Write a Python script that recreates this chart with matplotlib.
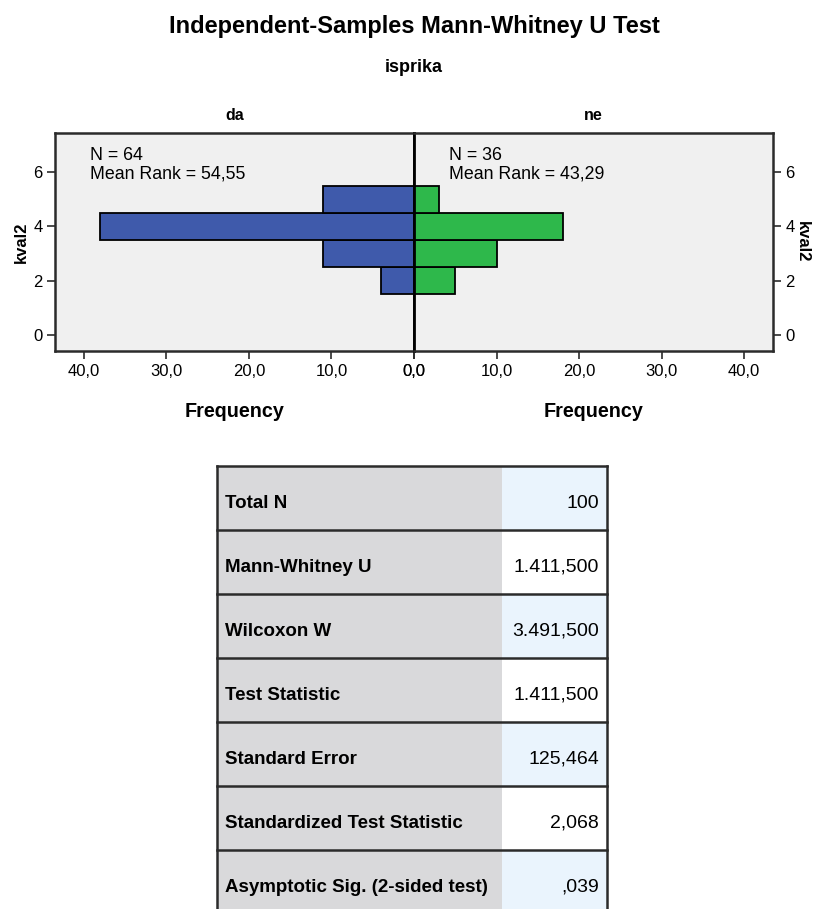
import matplotlib
matplotlib.use('Agg')
import matplotlib.pyplot as plt
from matplotlib.patches import Rectangle
from matplotlib.ticker import FuncFormatter

plt.rcParams['font.family'] = ['Liberation Sans', 'DejaVu Sans']

# ==========================================
# DATA
# ==========================================
kval2_bins = [2, 3, 4, 5]
freq_da = [4, 11, 38, 11]
freq_ne = [5, 10, 18, 3]
group_names = ['da', 'ne']
group_n = [64, 36]
mean_rank = ['54,55', '43,29']
x_ticks = [0, 10, 20, 30, 40]
y_ticks = [0, 2, 4, 6]

table_labels = ['Total N', 'Mann-Whitney U', 'Wilcoxon W', 'Test Statistic',
                'Standard Error', 'Standardized Test Statistic',
                'Asymptotic Sig. (2-sided test)']
table_values = ['100', '1.411,500', '3.491,500', '1.411,500', '125,464', '2,068', ',039']

BLUE = '#3f5aab'
GREEN = '#2eb84b'
PANEL_BG = '#f0f0f0'
FRAME = '#2b2b2b'
GRAY_CELL = '#d9d9db'
BLUE_CELL = '#eaf4fd'

W, H = 815, 909
fig = plt.figure(figsize=(W / 100, H / 100), dpi=100)


def px_axes(x0, y0, x1, y1):
    # pixel box (top-left origin) -> figure axes
    return fig.add_axes([x0 / W, 1 - y1 / H, (x1 - x0) / W, (y1 - y0) / H])


comma_fmt = FuncFormatter(lambda v, p: f'{v:.1f}'.replace('.', ','))

ax_l = px_axes(55, 133, 414, 351)
ax_r = px_axes(414, 133, 773, 351)

for ax, freqs, color in [(ax_l, freq_da, BLUE), (ax_r, freq_ne, GREEN)]:
    ax.set_facecolor(PANEL_BG)
    ax.barh(kval2_bins, freqs, height=1.0, color=color, edgecolor='black', linewidth=1.3, zorder=2)
    ax.set_ylim(-0.6, 7.45)
    ax.set_yticks(y_ticks)
    ax.set_xticks(x_ticks)
    ax.xaxis.set_major_formatter(comma_fmt)
    ax.tick_params(axis='both', direction='out', length=6, width=1.2, color=FRAME,
                   labelsize=12, pad=3)
    for s in ax.spines.values():
        s.set_color(FRAME)
        s.set_linewidth(1.8)

ax_l.set_xlim(43.5, 0)
ax_r.set_xlim(0, 43.5)

ax_l.spines['right'].set_color('black')
ax_l.spines['right'].set_linewidth(2)
ax_r.spines['left'].set_color('black')
ax_r.spines['left'].set_linewidth(2)

ax_r.yaxis.tick_right()
ax_r.yaxis.set_label_position('right')
ax_l.set_ylabel('kval2', fontsize=12, fontweight='bold', labelpad=3)
ax_r.set_ylabel('kval2', fontsize=12, fontweight='bold', rotation=270, labelpad=11)

for ax, name in zip([ax_l, ax_r], group_names):
    ax.set_xlabel('Frequency', fontsize=14.2, fontweight='bold', labelpad=17)
    ax.set_title(name, fontsize=11.5, fontweight='bold', pad=9)

for ax, n, mr in zip([ax_l, ax_r], group_n, mean_rank):
    ax.text(0.098, 0.935, f'N = {n}\nMean Rank = {mr}', transform=ax.transAxes,
            ha='left', va='top', fontsize=12.8, linespacing=1.12)

fig.text(414 / W, 1 - 27 / H, 'Independent-Samples Mann-Whitney U Test', ha='center', va='center',
         fontsize=17, fontweight='bold')
fig.text(414 / W, 1 - 68 / H, 'isprika', ha='center', va='center',
         fontsize=13, fontweight='bold')

# ==========================================
# TABLE
# ==========================================
row_h = 64
n_rows = len(table_labels)
ax_t = px_axes(217, 466, 607, 466 + row_h * n_rows)
ax_t.set_xlim(0, 390)
ax_t.set_ylim(n_rows, 0)
ax_t.axis('off')
split = 502 - 217

for i, (lab, val) in enumerate(zip(table_labels, table_values)):
    ax_t.add_patch(Rectangle((0, i), split, 1, facecolor=GRAY_CELL, edgecolor='none'))
    ax_t.add_patch(Rectangle((split, i), 390 - split, 1,
                             facecolor=BLUE_CELL if i % 2 == 0 else 'white', edgecolor='none'))
    ax_t.text(8, i + 0.58, lab, ha='left', va='center', fontsize=13.5, fontweight='bold')
    ax_t.text(382, i + 0.58, val, ha='right', va='center', fontsize=14)

for i in range(n_rows + 1):
    ax_t.plot([0, 390], [i, i], color=FRAME, lw=1.8, clip_on=False)
ax_t.plot([0, 0], [0, n_rows], color=FRAME, lw=1.8, clip_on=False)
ax_t.plot([390, 390], [0, n_rows], color=FRAME, lw=1.8, clip_on=False)

fig.savefig('out.png', dpi=100)
